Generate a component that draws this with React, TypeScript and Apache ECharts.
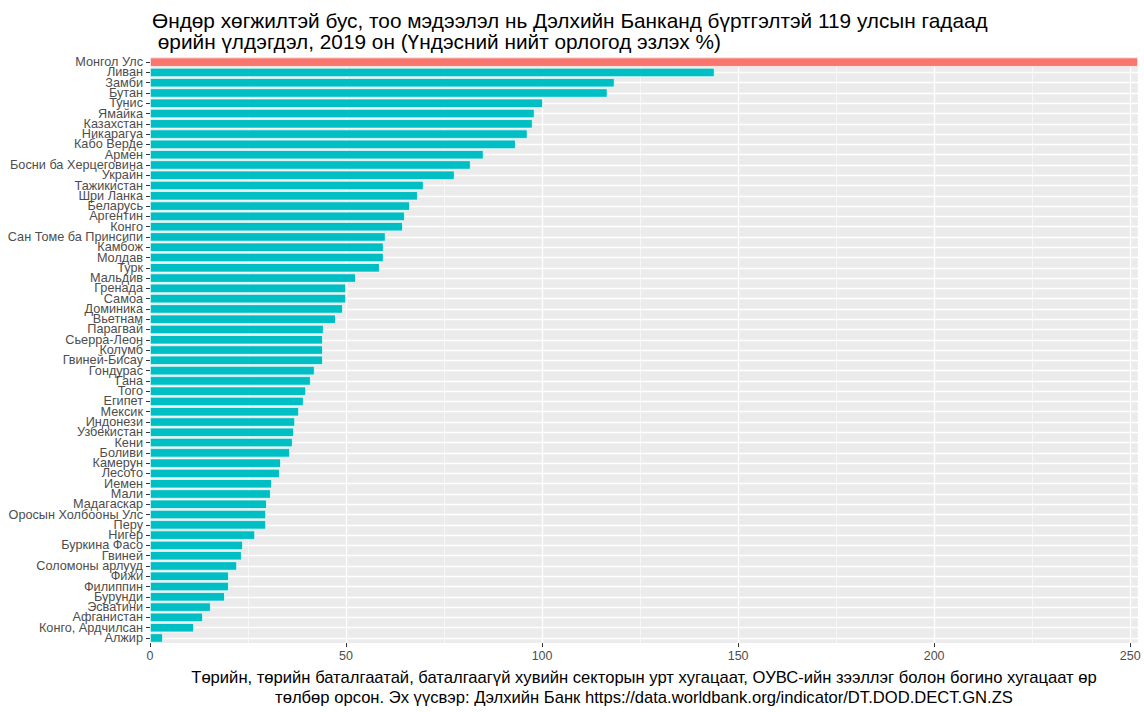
import * as echarts from "echarts";
import { useEffect, useRef } from "react";

// top to bottom, as in the picture
const countries = [
  "Монгол Улс", "Ливан", "Замби", "Бутан", "Тунис", "Ямайка", "Казахстан", "Никарагуа",
  "Кабо Верде", "Армен", "Босни ба Херцеговина", "Украйн", "Тажикистан", "Шри Ланка",
  "Беларусь", "Аргентин", "Конго", "Сан Томе ба Принсипи", "Камбож", "Молдав", "Турк",
  "Мальдив", "Гренада", "Самоа", "Доминика", "Вьетнам", "Парагвай", "Сьерра-Леон",
  "Колумб", "Гвиней-Бисау", "Гондурас", "Гана", "Того", "Египет", "Мексик", "Индонези",
  "Узбекистан", "Кени", "Боливи", "Камерун", "Лесото", "Иемен", "Мали", "Мадагаскар",
  "Оросын Холбооны Улс", "Перу", "Нигер", "Буркина Фасо", "Гвиней", "Соломоны арлууд",
  "Фижи", "Филиппин", "Бурунди", "Эсватини", "Афганистан", "Конго, Ардчилсан", "Алжир",
];

const debtShare = [
  252, 144.0, 118.5, 116.7, 100.2, 98.1, 97.6, 96.3,
  93.3, 85.1, 81.8, 77.7, 69.8, 68.3,
  66.3, 65.0, 64.5, 60.1, 59.6, 59.6, 58.6,
  52.5, 50.0, 50.0, 49.2, 47.4, 44.3, 44.1,
  44.1, 44.1, 42.0, 41.0, 39.8, 39.2, 38.0, 37.0,
  36.7, 36.4, 35.7, 33.4, 33.1, 31.1, 30.8, 29.8,
  29.6, 29.6, 26.8, 23.7, 23.4, 22.2,
  20.1, 20.1, 19.1, 15.5, 13.5, 11.2, 3.3,
];

const highlight = "Монгол Улс";

const titleText =
  "Өндөр хөгжилтэй бус, тоо мэдээлэл нь Дэлхийн Банканд бүртгэлтэй 119 улсын гадаад\n" +
  " өрийн үлдэгдэл, 2019 он (Үндэсний нийт орлогод эзлэх %)";

const captionText =
  "Төрийн, төрийн баталгаатай, баталгаагүй хувийн секторын урт хугацаат, ОУВС-ийн зээллэг болон богино хугацаат өр\n" +
  "төлбөр орсон. Эх үүсвэр: Дэлхийн Банк https://data.worldbank.org/indicator/DT.DOD.DECT.GN.ZS";

export default function App() {
  const chartRef = useRef<HTMLDivElement>(null);

  useEffect(() => {
    if (!chartRef.current) return;
    document.body.style.margin = "0";

    const chart = echarts.init(chartRef.current, null, { renderer: "svg" });

    chart.setOption({
      animation: false,
      backgroundColor: "#ffffff",
      textStyle: { fontFamily: "'Liberation Sans', Arial, sans-serif" },
      title: {
        text: titleText,
        left: 147,
        top: 5,
        textStyle: { fontSize: 20.8, fontWeight: "normal", color: "#000", lineHeight: 21 },
      },
      grid: {
        left: 150,
        right: 6,
        top: 57,
        bottom: 67,
        show: true,
        backgroundColor: "#EBEBEB",
        borderWidth: 0,
      },
      xAxis: {
        type: "value",
        min: 0,
        max: 252,
        interval: 50,
        name: captionText,
        nameLocation: "middle",
        nameGap: 22,
        nameTextStyle: { fontSize: 16.6, color: "#000", lineHeight: 20 },
        axisLine: { show: false },
        axisTick: { show: true, length: 4, lineStyle: { color: "#333" } },
        axisLabel: { color: "#4D4D4D", fontSize: 12.5, margin: 6, showMaxLabel: false },
        splitLine: { show: true, lineStyle: { color: "#fff", width: 1.3 } },
        minorTick: { show: false, splitNumber: 2 },
        minorSplitLine: { show: true, lineStyle: { color: "#fff", width: 0.6 } },
      },
      yAxis: {
        type: "category",
        data: countries,
        inverse: true,
        axisLine: { show: false },
        axisTick: { show: true, alignWithLabel: true, interval: 0, length: 4, lineStyle: { color: "#333" } },
        axisLabel: { interval: 0, color: "#4D4D4D", fontSize: 12.7, margin: 7 },
        splitLine: {
          show: true,
          alignWithLabel: true,
          interval: 0,
          lineStyle: { color: "#fff", width: 1.3 },
        },
      },
      series: [
        {
          type: "bar",
          barCategoryGap: "10%",
          data: debtShare.map((v, i) => ({
            value: v,
            itemStyle: { color: countries[i] === highlight ? "#F8766D" : "#00BFC4" },
          })),
          itemStyle: { borderColor: "#fff", borderWidth: 0.7 },
        },
      ],
    });

    return () => {
      chart.dispose();
    };
  }, []);

  return <div ref={chartRef} style={{ width: 1144, height: 712 }} />;
}
